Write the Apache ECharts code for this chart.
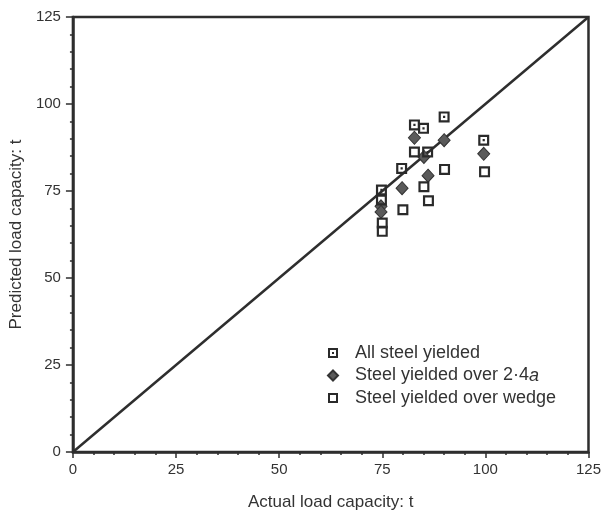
<!DOCTYPE html>
<html>
<head>
<meta charset="utf-8">
<script src="https://cdn.jsdelivr.net/npm/echarts@6/dist/echarts.min.js"></script>
<style>html,body{margin:0;padding:0;background:#fff;}#c{width:604px;height:516px;}</style>
</head>
<body>
<div id="c"></div>
<script>
// Data (actual, predicted) in tonnes
const seriesNames = ['All steel yielded', 'Steel yielded over 2·4a', 'Steel yielded over wedge'];
const allSteelYielded = [[74.8,75.3],[79.7,81.5],[82.8,94.0],[85.0,93.0],[86.0,86.2],[90.0,96.3],[99.6,89.6]];
const yieldedOver24a = [[74.7,70.6],[74.7,69.0],[79.8,75.8],[82.8,90.3],[85.1,84.8],[86.1,79.4],[90.0,89.6],[99.6,85.7]];
const yieldedOverWedge = [[74.8,72.4],[75.0,65.8],[75.0,63.4],[80.0,69.6],[82.8,86.2],[85.1,76.2],[86.2,72.2],[90.1,81.2],[99.8,80.5]];
const equalityLine = [[0,0],[125,125]];
const axisTicks = [0,25,50,75,100,125];

const ink = '#2e2e2e';
const font = "'Liberation Sans', Arial, Helvetica, sans-serif";
const sqDot = 'path://M0 0L100 0L100 100L0 100Z M20 20L20 80L80 80L80 20Z M40 40L60 40L60 60L40 60Z';
const sqHollow = 'path://M0 0L100 0L100 100L0 100Z M20 20L20 80L80 80L80 20Z';

const chart = echarts.init(document.getElementById('c'), null, {renderer:'canvas'});
const axisCommon = {
  type:'value', min:axisTicks[0], max:axisTicks[axisTicks.length-1], interval:25,
  nameLocation:'middle',
  nameTextStyle:{fontFamily:font, fontSize:17, color:'#333'},
  axisLine:{show:true, lineStyle:{color:ink, width:2.5}},
  minorTick:{show:true, splitNumber:5, length:3, lineStyle:{color:ink, width:1.5}},
  splitLine:{show:false}
};
chart.setOption({
  animation:false,
  backgroundColor:'#fff',
  grid:{left:69, right:12, top:17, bottom:60, show:true, borderColor:ink, borderWidth:2.5, containLabel:false},
  xAxis:Object.assign({}, axisCommon, {name:'Actual load capacity: t', nameGap:42,
    axisTick:{show:true, length:6, lineStyle:{color:ink, width:1.5}},
    axisLabel:{fontFamily:font, fontSize:15, color:'#333', margin:10}}),
  yAxis:Object.assign({}, axisCommon, {name:'Predicted load capacity: t', nameGap:40,
    axisTick:{show:true, length:7, lineStyle:{color:ink, width:1.5}},
    axisLabel:{fontFamily:font, fontSize:15, color:'#333', margin:12}}),
  legend:{
    data:seriesNames, orient:'vertical', left:322, top:339,
    itemWidth:10, itemHeight:10, itemGap:4.5,
    formatter:function(n){
      if(n === seriesNames[1]) return '{t|Steel yielded over 2·4}{i|a}';
      return '{t|' + n + '}';
    },
    textStyle:{fontFamily:font, fontSize:18, color:'#333',
      rich:{t:{fontFamily:font, fontSize:18, color:'#333', padding:[0,0,0,12]},
            i:{fontFamily:font, fontSize:18, color:'#333', fontStyle:'italic'}}}
  },
  series:[
    {type:'line', data:equalityLine, symbol:'none', silent:true, z:1,
     lineStyle:{color:ink, width:2.5}},
    {name:seriesNames[0], type:'scatter', data:allSteelYielded, symbol:sqDot, symbolSize:11, z:3,
     itemStyle:{color:'#2a2a2a', opacity:1}},
    {name:seriesNames[1], type:'scatter', data:yieldedOver24a, symbol:'diamond', symbolSize:[12,13], z:2,
     itemStyle:{color:'#5a5a5a', borderColor:'#333', borderWidth:1, opacity:1}},
    {name:seriesNames[2], type:'scatter', data:yieldedOverWedge, symbol:sqHollow, symbolSize:11, z:3,
     itemStyle:{color:'#2a2a2a', opacity:1}}
  ]
});
</script>
</body>
</html>
